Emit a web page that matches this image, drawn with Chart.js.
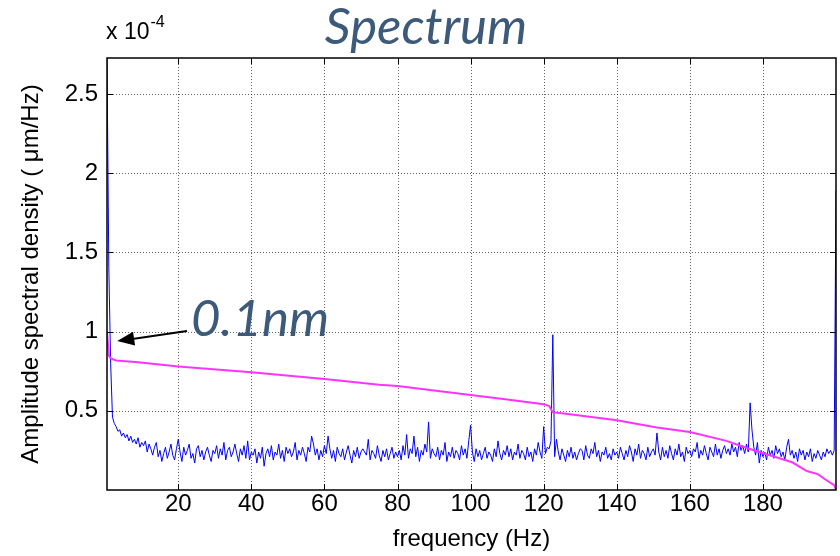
<!DOCTYPE html>
<html>
<head>
<meta charset="utf-8">
<script src="https://cdn.jsdelivr.net/npm/chart.js@4.4.1/dist/chart.umd.min.js"></script>
<style>
  html, body { margin: 0; padding: 0; background: #fff; }
</style>
</head>
<body>
<canvas id="spectrum" width="840" height="556"></canvas>
<script>
// ---------------------------------------------------------------------------
// Data (amplitude values in units of 1e-4 um/Hz)
// ---------------------------------------------------------------------------

// spectrum bins, 0.5 Hz apart, 0.5 .. 200 Hz (one row = 10 Hz)
const asd = [
  2.727, 1.40, 0.80, 0.46, 0.42, 0.40, 0.37, 0.38, 0.34, 0.36, 0.33, 0.35, 0.31, 0.34, 0.30, 0.32, 0.29, 0.33, 0.27, 0.30,
  0.28, 0.31, 0.24, 0.29, 0.26, 0.22, 0.27, 0.30, 0.21, 0.25, 0.18, 0.23, 0.27, 0.20, 0.24, 0.29, 0.22, 0.19, 0.26, 0.32,
  0.24, 0.18, 0.27, 0.22, 0.25, 0.29, 0.20, 0.23, 0.17, 0.26, 0.28, 0.21, 0.25, 0.19, 0.24, 0.27, 0.22, 0.18, 0.25, 0.23,
  0.28, 0.20, 0.26, 0.22, 0.30, 0.19, 0.25, 0.27, 0.21, 0.24, 0.29, 0.23, 0.18, 0.26, 0.22, 0.28, 0.20, 0.31, 0.19, 0.24,
  0.22, 0.26, 0.17, 0.24, 0.20, 0.27, 0.15, 0.23, 0.26, 0.21, 0.28, 0.19, 0.24, 0.22, 0.29, 0.20, 0.25, 0.18, 0.27, 0.23,
  0.26, 0.21, 0.24, 0.30, 0.19, 0.25, 0.22, 0.27, 0.23, 0.18, 0.27, 0.24, 0.34, 0.29, 0.22, 0.26, 0.19, 0.25, 0.21, 0.28,
  0.23, 0.34, 0.26, 0.20, 0.25, 0.18, 0.27, 0.23, 0.21, 0.26, 0.19, 0.24, 0.28, 0.22, 0.17, 0.25, 0.21, 0.27, 0.20, 0.24,
  0.26, 0.24, 0.22, 0.32, 0.19, 0.25, 0.23, 0.20, 0.28, 0.22, 0.18, 0.25, 0.21, 0.26, 0.19, 0.23, 0.27, 0.20, 0.24, 0.21,
  0.25, 0.19, 0.28, 0.22, 0.35, 0.20, 0.26, 0.23, 0.34, 0.21, 0.27, 0.18, 0.25, 0.22, 0.29, 0.24, 0.43, 0.20, 0.26, 0.23,
  0.21, 0.27, 0.19, 0.25, 0.22, 0.30, 0.18, 0.24, 0.21, 0.27, 0.20, 0.25, 0.23, 0.19, 0.28, 0.22, 0.26, 0.20, 0.31, 0.41,
  0.24, 0.18, 0.26, 0.21, 0.25, 0.19, 0.23, 0.27, 0.20, 0.24, 0.22, 0.18, 0.26, 0.21, 0.31, 0.23, 0.19, 0.25, 0.22, 0.28,
  0.21, 0.26, 0.19, 0.24, 0.22, 0.29, 0.20, 0.25, 0.23, 0.19, 0.27, 0.21, 0.24, 0.18, 0.26, 0.22, 0.30, 0.24, 0.20, 0.40,
  0.23, 0.27, 0.26, 0.31, 0.98, 0.21, 0.32, 0.24, 0.19, 0.26, 0.22, 0.18, 0.25, 0.21, 0.27, 0.20, 0.24, 0.19, 0.23, 0.26,
  0.25, 0.19, 0.28, 0.22, 0.20, 0.26, 0.23, 0.30, 0.21, 0.25, 0.18, 0.24, 0.22, 0.27, 0.20, 0.23, 0.19, 0.26, 0.22, 0.24,
  0.20, 0.27, 0.23, 0.19, 0.25, 0.21, 0.28, 0.24, 0.18, 0.26, 0.22, 0.29, 0.20, 0.25, 0.23, 0.19, 0.27, 0.21, 0.24, 0.26,
  0.22, 0.36, 0.24, 0.19, 0.27, 0.21, 0.25, 0.20, 0.28, 0.23, 0.19, 0.26, 0.22, 0.29, 0.21, 0.24, 0.18, 0.27, 0.23, 0.25,
  0.21, 0.26, 0.24, 0.30, 0.20, 0.25, 0.22, 0.28, 0.23, 0.19, 0.27, 0.24, 0.21, 0.29, 0.22, 0.26, 0.20, 0.25, 0.28, 0.23,
  0.26, 0.22, 0.29, 0.24, 0.27, 0.21, 0.30, 0.25, 0.28, 0.23, 0.29, 0.24, 0.55, 0.38, 0.27, 0.22, 0.30, 0.17, 0.25, 0.21,
  0.24, 0.19, 0.27, 0.22, 0.25, 0.20, 0.28, 0.23, 0.26, 0.21, 0.24, 0.19, 0.27, 0.32, 0.22, 0.25, 0.20, 0.24, 0.18, 0.26,
  0.22, 0.25, 0.19, 0.24, 0.21, 0.26, 0.18, 0.23, 0.20, 0.25, 0.22, 0.19, 0.24, 0.21, 0.26, 0.23, 0.25, 0.22, 0.25, 1.89,
];
const freqs = asd.map((_, i) => 0.5 + i * 0.5);

// cumulative amplitude, integrated from the top of the band downwards
const cumFreqs = [0.5, 1.0, 1.5, 3, 9, 20, 40, 60, 75, 80, 100, 110, 120, 121.5, 122.5, 125, 140, 151, 160, 170, 175, 179, 188, 192, 195, 197.5, 199.5, 200];
const cumVals  = [1.00, 0.85, 0.83, 0.818, 0.806, 0.78, 0.743, 0.70, 0.665, 0.656, 0.60, 0.572, 0.542, 0.53, 0.49, 0.485, 0.44, 0.395, 0.366, 0.31, 0.27, 0.24, 0.175, 0.12, 0.10, 0.06, 0.03, 0.0];

const xTicks = [20, 40, 60, 80, 100, 120, 140, 160, 180];
const yTicks = [0.5, 1, 1.5, 2, 2.5];

// ---------------------------------------------------------------------------
// Plugins: dotted grid, boxed axes with inward ticks, labels and arrow
// ---------------------------------------------------------------------------

const gridPlugin = {
    id: "dottedGrid",
    beforeDatasetsDraw(chart) {
        const { ctx, chartArea: a, scales: { x, y } } = chart;
        ctx.save();
        ctx.strokeStyle = "rgba(0,0,0,0.6)";
        ctx.lineWidth = 1;
        ctx.setLineDash([1, 2]);
        ctx.beginPath();
        xTicks.forEach((v) => {
            const px = Math.round(x.getPixelForValue(v)) + 0.5;
            ctx.moveTo(px, a.top);
            ctx.lineTo(px, a.bottom);
        });
        yTicks.forEach((v) => {
            const py = Math.round(y.getPixelForValue(v)) + 0.5;
            ctx.moveTo(a.left, py);
            ctx.lineTo(a.right, py);
        });
        ctx.stroke();
        ctx.restore();
    },
};

const framePlugin = {
    id: "frame",
    afterDatasetsDraw(chart) {
        const { ctx, chartArea: a, scales: { x, y } } = chart;
        const tick = 6;
        ctx.save();
        ctx.strokeStyle = "#000";
        ctx.lineWidth = 1.5;
        ctx.strokeRect(a.left, a.top, a.right - a.left, a.bottom - a.top);

        ctx.lineWidth = 1;
        ctx.beginPath();
        xTicks.forEach((v) => {
            const px = Math.round(x.getPixelForValue(v)) + 0.5;
            ctx.moveTo(px, a.bottom); ctx.lineTo(px, a.bottom - tick);
            ctx.moveTo(px, a.top); ctx.lineTo(px, a.top + tick);
        });
        yTicks.forEach((v) => {
            const py = Math.round(y.getPixelForValue(v)) + 0.5;
            ctx.moveTo(a.left, py); ctx.lineTo(a.left + tick, py);
            ctx.moveTo(a.right, py); ctx.lineTo(a.right - tick, py);
        });
        ctx.stroke();

        // exponent marker above the y axis
        ctx.fillStyle = "#000";
        ctx.textBaseline = "alphabetic";
        ctx.textAlign = "left";
        ctx.font = "23px 'Liberation Sans', Arial, sans-serif";
        ctx.fillText("x 10", a.left - 1, 39);
        const w = ctx.measureText("x 10").width;
        ctx.font = "16px 'Liberation Sans', Arial, sans-serif";
        ctx.fillText("-4", a.left - 1 + w + 1, 27);

        // title
        ctx.fillStyle = "#3d5a7a";
        ctx.textAlign = "center";
        ctx.font = "italic 51px Lato, 'Open Sans', sans-serif";
        ctx.fillText("Spectrum", 426, 44);

        // annotation pointing at the 1e-4 start of the cumulative curve
        ctx.textAlign = "left";
        ctx.font = "italic 51px Lato, 'Open Sans', sans-serif";
        ctx.fillText("0.1nm", 191, 336);

        const tipX = x.getPixelForValue(3.3);
        const tipY = y.getPixelForValue(0.94);
        const tailX = 187, tailY = 331;
        const ang = Math.atan2(tipY - tailY, tipX - tailX);
        const headLen = 17, headHalf = 7;
        const bx = tipX - headLen * Math.cos(ang);
        const by = tipY - headLen * Math.sin(ang);
        ctx.strokeStyle = "#000";
        ctx.lineWidth = 2;
        ctx.beginPath();
        ctx.moveTo(tailX, tailY);
        ctx.lineTo(bx, by);
        ctx.stroke();
        ctx.fillStyle = "#000";
        ctx.beginPath();
        ctx.moveTo(tipX, tipY);
        ctx.lineTo(bx + headHalf * Math.sin(ang), by - headHalf * Math.cos(ang));
        ctx.lineTo(bx - headHalf * Math.sin(ang), by + headHalf * Math.cos(ang));
        ctx.closePath();
        ctx.fill();
        ctx.restore();
    },
};

// ---------------------------------------------------------------------------
// Chart
// ---------------------------------------------------------------------------

const axisFont = { family: "'Liberation Sans', Arial, sans-serif", size: 24 };

new Chart(document.getElementById("spectrum").getContext("2d"), {
    type: "line",
    data: {
        datasets: [
            {
                label: "ASD",
                data: freqs.map((f, i) => ({ x: f, y: asd[i] })),
                borderColor: "#0000ff",
                borderWidth: 1,
                pointRadius: 0,
                tension: 0,
                order: 1,
            },
            {
                label: "cumulative",
                data: cumFreqs.map((f, i) => ({ x: f, y: cumVals[i] })),
                borderColor: "#ff33ff",
                borderWidth: 2,
                pointRadius: 0,
                tension: 0,
                order: 0,
            },
        ],
    },
    options: {
        responsive: false,
        animation: false,
        events: [],
        layout: { padding: { top: 58, right: 4, left: 0, bottom: 0 } },
        plugins: { legend: { display: false }, tooltip: { enabled: false } },
        scales: {
            x: {
                type: "linear",
                min: 0.5,
                max: 200,
                afterBuildTicks: (s) => { s.ticks = xTicks.map((v) => ({ value: v })); },
                afterFit: (s) => { s.height = 66; },
                grid: { display: false, drawTicks: false },
                border: { display: false },
                ticks: { font: axisFont, color: "#000", padding: 0, maxRotation: 0, autoSkip: false },
                title: { display: true, text: "frequency (Hz)", font: axisFont, color: "#000", padding: { top: 2, bottom: 2 } },
            },
            y: {
                min: 0,
                max: 2.727,
                afterBuildTicks: (s) => { s.ticks = yTicks.map((v) => ({ value: v })); },
                afterFit: (s) => { s.width = 107; },
                grid: { display: false, drawTicks: false },
                border: { display: false },
                ticks: { font: axisFont, color: "#000", padding: 9, callback: (v) => String(v) },
                title: { display: true, text: "Amplitude spectral density ( μm/Hz)", font: axisFont, color: "#000", padding: { top: 17, bottom: 0 } },
            },
        },
    },
    plugins: [gridPlugin, framePlugin],
});
</script>
</body>
</html>
